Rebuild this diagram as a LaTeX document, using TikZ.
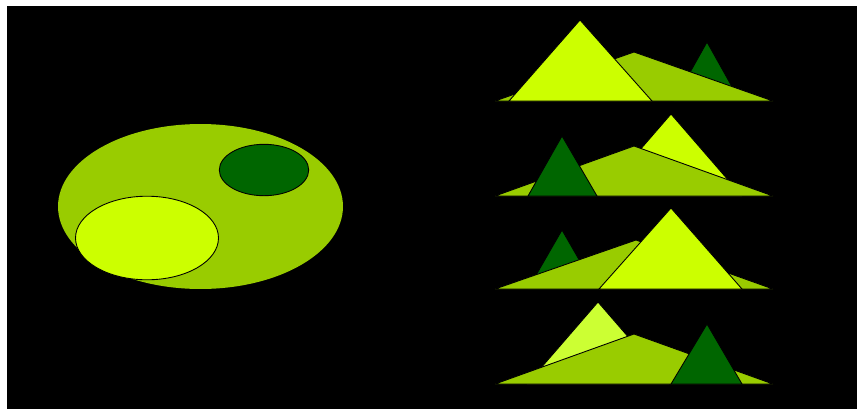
\documentclass[tikz,border=0pt]{standalone}
\usepackage{tikz}
\usepackage{xcolor}
\definecolor{limelight}{RGB}{204,255,0}
\definecolor{limepale}{RGB}{204,255,51}
\definecolor{leafmid}{RGB}{153,204,0}
\definecolor{leafdark}{RGB}{0,102,0}

\begin{document}
\begin{tikzpicture}[x=0.02cm, y=-0.02cm,
    edge/.style={draw=black, line width=0.5pt, line join=miter},
    hill/.style={edge, fill=leafmid},
    peaklight/.style={edge, fill=limelight},
    peakpale/.style={edge, fill=limepale},
    peakdark/.style={edge, fill=leafdark}
]
    \useasboundingbox (0,0) rectangle (857,409);
    \fill[white] (0,0) rectangle (857,409);
    \fill[black] (7,6) rectangle (857,409);

    % ellipses on the left
    \fill[leafmid] (200.5,206.5) ellipse [x radius=2.85cm, y radius=1.65cm];
    \filldraw[peakdark] (264,170) ellipse [x radius=0.894cm, y radius=0.514cm];
    \filldraw[peaklight] (147,238) ellipse [x radius=1.43cm, y radius=0.836cm];

    % row 1
    \filldraw[peakdark]  (674,101) -- (707,42) -- (740,101) -- cycle;
    \filldraw[hill]      (495,101) -- (634,52) -- (773,101) -- cycle;
    \filldraw[peaklight] (509,101) -- (580,20) -- (652,101) -- cycle;

    % row 2
    \filldraw[peaklight] (600,196) -- (671,114) -- (742,196) -- cycle;
    \filldraw[hill]      (495,196) -- (634,146) -- (773,196) -- cycle;
    \filldraw[peakdark]  (528,196) -- (562,136) -- (597,196) -- cycle;

    % row 3
    \filldraw[peakdark]  (528,289) -- (562,230) -- (596,289) -- cycle;
    \filldraw[hill]      (495,289) -- (636,240) -- (773,289) -- cycle;
    \filldraw[peaklight] (599,289) -- (671,208) -- (742,289) -- cycle;

    % row 4
    \filldraw[peakpale]  (527,384) -- (598,302) -- (669,384) -- cycle;
    \filldraw[hill]      (495,384) -- (634,334) -- (773,384) -- cycle;
    \filldraw[peakdark]  (671,384) -- (707,324) -- (742,384) -- cycle;
\end{tikzpicture}
\end{document}
